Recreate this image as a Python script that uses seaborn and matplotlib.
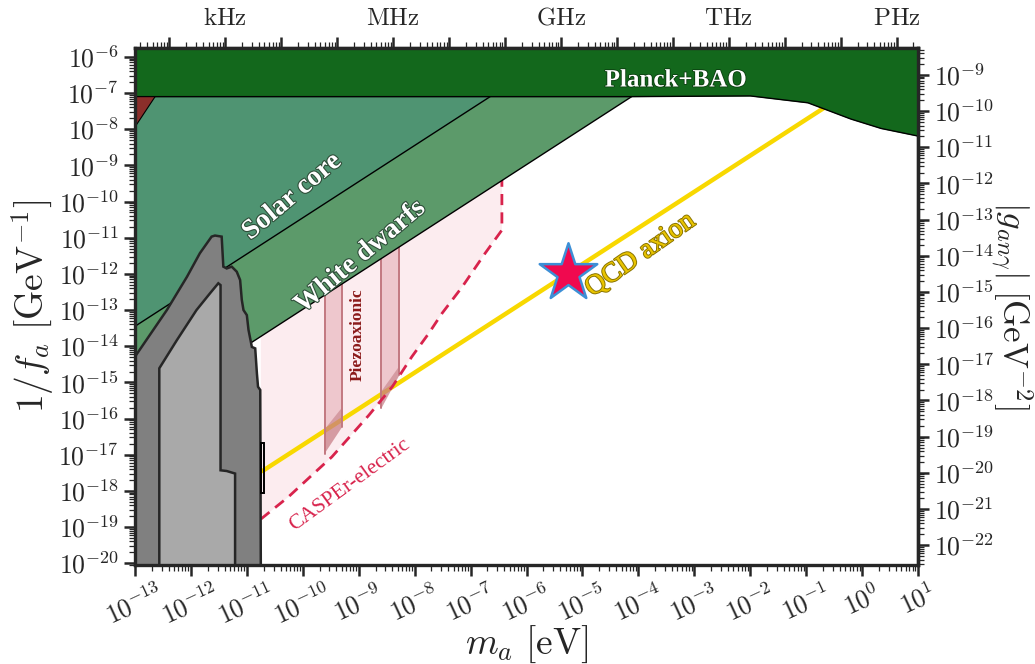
import matplotlib
matplotlib.use("Agg")
import matplotlib.pyplot as plt
import matplotlib.patheffects as pe
from matplotlib.ticker import LogLocator, FuncFormatter, NullFormatter
import numpy as np
import seaborn as sns

# values are log10 exponents (x: m_a in eV, y: 1/f_a in GeV^-1)
planck_logm = [-13.0, -4.2, -2.0, -0.97, -0.2, 0.34, 1.0]
planck_logy = [-7.10, -7.10, -7.08, -7.27, -7.72, -7.98, -8.19]
top_logy = -5.75

solar_logm = [-13.0, -6.65]
solar_logy = [-13.45, -7.10]
wd_logm = [-13.0, -4.12]
wd_logy = [-15.98, -7.10]

tri_logm = [-13.0, -12.64, -13.0]
tri_logy = [-7.10, -7.10, -7.94]

gray_logm = [-13.0, -12.43, -12.07, -11.84, -11.63, -11.57, -11.45, -11.42, -11.36,
             -11.27, -11.18, -11.12, -11.09, -11.06, -11.00, -10.97, -10.91, -10.85,
             -10.82, -10.80, -10.76, -10.75, -13.0]
gray_logy = [-14.29, -13.0, -12.08, -11.43, -10.97, -10.94, -10.97, -11.80, -11.85,
             -11.80, -11.94, -12.17, -12.72, -13.0, -13.14, -13.55, -14.02, -14.06,
             -14.75, -15.12, -15.21, -20.2, -20.2]
light_logm = [-12.565, -12.565, -12.25, -11.90, -11.66, -11.51, -11.47, -11.47, -11.36,
              -11.21, -11.21]
light_logy = [-20.2, -14.61, -13.83, -13.0, -12.54, -12.26, -12.31, -17.43, -17.45,
              -17.52, -20.2]

box_logm = [-10.75, -10.69]
box_logy = [-18.06, -16.68]

casper_logm = [-10.75, -10.26, -9.84, -9.48, -8.82, -8.40, -8.05, -7.75, -7.51,
               -7.15, -6.74, -6.44, -6.44]
casper_logy = [-18.78, -18.17, -17.57, -17.06, -15.91, -15.12, -14.29, -13.65, -13.09,
               -12.36, -11.43, -10.79, -7.10]

piezo_logm = [[-9.611, -9.30], [-8.596, -8.274]]
piezo_top = [[-12.59, -12.28], [-11.58, -11.25]]
piezo_bot = [[-16.97, -16.24], [-15.72, -14.80]]
piezo_dark = [[-16.30, -15.70], [-15.25, -14.55]]

qcd_logm = [-10.72, -0.3]
qcd_logy = [-17.45, -7.03]
star_logm, star_logy = -5.25, -11.98

x_ticks = list(range(-13, 2))
y_ticks = list(range(-20, -5))
g_ticks = list(range(-22, -8))
freq_ticks = list(range(2, 16))
freq_names = {3: "kHz", 6: "MHz", 9: "GHz", 12: "THz", 15: "PHz"}

HZ_PER_EV = 2.418e14
G_PER_INVFA = 10 ** -2.5

sns.set_theme(style="ticks")
plt.rcParams["font.family"] = ["Liberation Serif", "DejaVu Serif"]
plt.rcParams["mathtext.fontset"] = "cm"


def p(v):
    return np.power(10.0, np.asarray(v, dtype=float))


def exp_fmt(v, pos):
    return r"$10^{%d}$" % int(round(np.log10(v)))


fig = plt.figure(figsize=(10.35, 6.64), dpi=100)
ax = fig.add_axes([0.1304, 0.149, 0.7566, 0.779])
ax.set_xscale("log")
ax.set_yscale("log")
ax.set_xlim(1e-13, 1e1)
ax.set_ylim(10 ** -20.05, 10 ** top_logy)

# CASPEr-electric projected region
pink_m = casper_logm + [-10.75]
pink_y = casper_logy + [-7.10]
ax.fill(p(pink_m), p(pink_y), color="#fcecef", lw=0, zorder=1)

# QCD axion band
sns.lineplot(x=p(qcd_logm), y=p(qcd_logy), color="#f8d800", lw=3.2,
             estimator=None, sort=False, ax=ax, zorder=2)

# Piezoaxionic bands
for lm, lt, lb, ld in zip(piezo_logm, piezo_top, piezo_bot, piezo_dark):
    xs = p([lm[0], lm[1], lm[1], lm[0]])
    ax.fill(xs, p([lt[0], lt[1], lb[1], lb[0]]), color="#e2a4ac", alpha=0.5,
            lw=0, zorder=3)
    ax.fill(xs, p([ld[0], ld[1], lb[1], lb[0]]), color="#b8666f", alpha=0.45,
            lw=0, zorder=3)
    for i in range(2):
        ax.plot(p([lm[i], lm[i]]), p([lt[i], lb[i]]), color="#c27880", lw=1.4,
                zorder=3)

sns.lineplot(x=p(casper_logm), y=p(casper_logy), color="#d8234c", lw=2,
             estimator=None, sort=False, ax=ax, zorder=4, dashes=False,
             linestyle=(0, (4, 2.6)))

# stellar bounds
ax.fill(p(wd_logm + [wd_logm[1], wd_logm[0]]), p(wd_logy + [top_logy, top_logy]),
        color="#5c9a6a", lw=0, zorder=5)
ax.fill(p(solar_logm + [solar_logm[1], solar_logm[0]]),
        p(solar_logy + [top_logy, top_logy]), color="#4f9472", lw=0, zorder=6)
for lm, ly in [(wd_logm, wd_logy), (solar_logm, solar_logy)]:
    ax.plot(p(lm), p(ly), color="black", lw=1.0, zorder=6)

# Planck+BAO
ax.fill_between(p(planck_logm), p(planck_logy), 10 ** top_logy, color="#13681c",
                lw=0, zorder=7)
ax.plot(p(planck_logm), p(planck_logy), color="black", lw=1.0, zorder=7)
ax.fill(p(tri_logm), p(tri_logy), facecolor="#8b2e2a", edgecolor="black", lw=0.8,
        zorder=7)

# low mass gray bounds
ax.fill(p(gray_logm), p(gray_logy), facecolor="#808080", edgecolor="#262626", lw=1.8,
        zorder=8)
ax.fill(p(light_logm), p(light_logy), facecolor="#a9a9a9", edgecolor="#262626",
        lw=1.8, zorder=8)
ax.fill(p([box_logm[0], box_logm[1], box_logm[1], box_logm[0]]),
        p([box_logy[0], box_logy[0], box_logy[1], box_logy[1]]), facecolor="none",
        edgecolor="black", lw=1.4, zorder=8)

sns.scatterplot(x=[10 ** star_logm], y=[10 ** star_logy], marker="*", s=1900,
                color="#f0094f", edgecolor="#3d8fd6", linewidth=1.8, ax=ax, zorder=9)

shadow = [pe.withStroke(linewidth=1.6, foreground="#2f4f3a")]
ax.text(10 ** -3.33, 10 ** -6.64, "Planck+BAO", color="white", fontsize=18,
        fontweight="bold", ha="center", va="center", zorder=10,
        path_effects=[pe.withStroke(linewidth=1.2, foreground="#0b3d10")])
ax.text(10 ** -10.19, 10 ** -9.87, "Solar core", color="white", fontsize=20,
        fontweight="bold", ha="center", va="center", rotation=40, zorder=10,
        path_effects=shadow)
ax.text(10 ** -8.97, 10 ** -11.53, "White dwarfs", color="white", fontsize=20,
        fontweight="bold", ha="center", va="center", rotation=40, zorder=10,
        path_effects=shadow)
ax.text(10 ** -3.96, 10 ** -11.48, "QCD axion", color="#e9c400", fontsize=20,
        ha="center", va="center", rotation=35, zorder=10,
        path_effects=[pe.withStroke(linewidth=1.4, foreground="#8a7400")])
ax.text(10 ** -9.01, 10 ** -13.69, "Piezoaxionic", color="#8b1a1a", fontsize=12.5,
        fontweight="bold", ha="center", va="center", rotation=90, zorder=10)
ax.text(10 ** -9.15, 10 ** -17.84, "CASPEr-electric", color="#d8234c", fontsize=15.5,
        ha="center", va="center", rotation=36, zorder=10)

# axes styling
for s in ax.spines.values():
    s.set_linewidth(2.4)
    s.set_zorder(11)
ax.set_xticks(p(x_ticks))
ax.set_yticks(p(y_ticks))
ax.xaxis.set_major_formatter(FuncFormatter(exp_fmt))
ax.yaxis.set_major_formatter(FuncFormatter(exp_fmt))
for axis in (ax.xaxis, ax.yaxis):
    axis.set_minor_locator(LogLocator(subs=np.arange(2, 10), numticks=100))
    axis.set_minor_formatter(NullFormatter())
ax.tick_params(which="major", length=8, width=1.8, labelsize=18.5, direction="out")
ax.tick_params(which="minor", length=4, width=0.9, direction="out")
ax.tick_params(axis="x", pad=3)
plt.setp(ax.get_xticklabels(), rotation=25)
ax.set_xlabel(r"$m_a\ [\mathrm{eV}]$", fontsize=27, labelpad=-4)
ax.set_ylabel(r"$1/f_a\ [\mathrm{GeV}^{-1}]$", fontsize=27, labelpad=2)

secx = ax.secondary_xaxis("top", functions=(lambda m: m * HZ_PER_EV,
                                             lambda f: f / HZ_PER_EV))
secx.set_xticks(p(freq_ticks), [r"$\mathrm{%s}$" % freq_names.get(k, "")
                                if k in freq_names else "" for k in freq_ticks])
secx.xaxis.set_minor_locator(LogLocator(subs=np.arange(2, 10), numticks=100))
secx.xaxis.set_minor_formatter(NullFormatter())
secx.tick_params(which="major", length=8, width=1.8, labelsize=18, pad=5)
secx.tick_params(which="minor", length=4, width=0.9)
secx.spines["top"].set_linewidth(2.4)

secy = ax.secondary_yaxis("right", functions=(lambda y: y * G_PER_INVFA,
                                               lambda g: g / G_PER_INVFA))
secy.set_yticks(p(g_ticks))
secy.yaxis.set_major_formatter(FuncFormatter(exp_fmt))
secy.yaxis.set_minor_locator(LogLocator(subs=np.arange(2, 10), numticks=100))
secy.yaxis.set_minor_formatter(NullFormatter())
secy.tick_params(which="major", length=8, width=1.8, labelsize=18.5)
secy.tick_params(which="minor", length=4, width=0.9)
secy.spines["right"].set_linewidth(2.4)
fig.text(0.978, 0.54, r"$|g_{an\gamma}|\ [\mathrm{GeV}^{-2}]$", fontsize=25,
         rotation=270, ha="center", va="center")

fig.savefig("out.png", dpi=100)
